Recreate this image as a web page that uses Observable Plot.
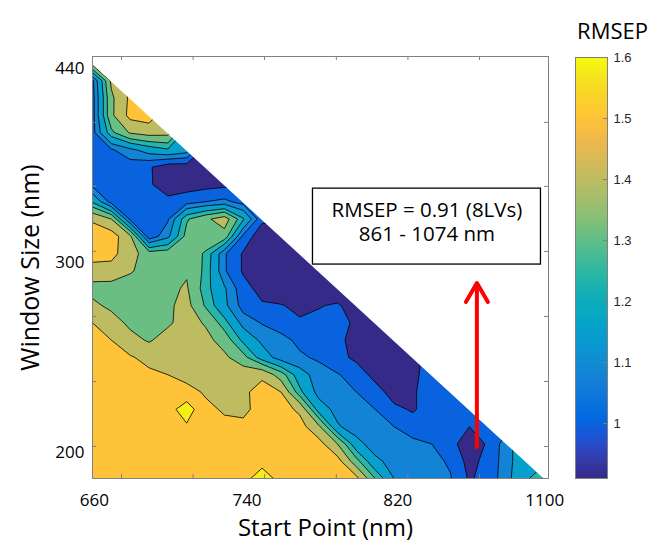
<!DOCTYPE html>
<html><head><meta charset="utf-8">
<script src="https://cdn.jsdelivr.net/npm/d3@7"></script>
<script src="https://cdn.jsdelivr.net/npm/@observablehq/plot@0.6"></script>
<style>
body{margin:0;background:#fff;}
#chart{position:relative;width:651px;height:548px;}
#chart svg{position:absolute;left:0;top:0;}
</style></head><body><div id="chart"></div>
<script>
// ---- data ----
const startPoints = [660,670,680,690,700,710,720,730,740,750,760,770,780,790,800,810,820,830,840,850,860,870,880,890,900];
const windowSizes = [440,430,420,410,400,390,380,370,360,350,340,330,320,310,300,290,280,270,260,250,240,230,220,210,200];
// RMSEP, one row per window size (top = 440 nm), one value per start point (only start + window <= 1100)
const rmsep = [
 [1.44],
 [1.06, 1.42],
 [1.05, 1.38, 1.52],
 [1.05, 1.38, 1.53, 1.55],
 [1.05, 1.29, 1.41, 1.44, 1.43],
 [1.04, 1.07, 1.13, 1.19, 1.23, 1.19],
 [1.04, 1.04, 1.04, 1.01, 0.95, 0.95, 0.96],
 [1.06, 1.04, 1.03, 1.01, 0.96, 0.96, 0.97, 0.98],
 [1.23, 1.05, 1.03, 1.02, 1.02, 1.05, 1.08, 1.10, 1.05],
 [1.49, 1.40, 1.06, 1.03, 1.07, 1.30, 1.38, 1.45, 1.25, 1.02],
 [1.54, 1.55, 1.42, 1.03, 1.13, 1.34, 1.36, 1.36, 1.06, 0.94, 0.95],
 [1.55, 1.53, 1.44, 1.35, 1.36, 1.36, 1.30, 1.09, 0.99, 0.94, 0.93, 0.94],
 [1.45, 1.46, 1.41, 1.36, 1.37, 1.39, 1.29, 1.09, 0.99, 0.95, 0.93, 0.92, 0.93],
 [1.37, 1.36, 1.35, 1.36, 1.38, 1.41, 1.27, 1.16, 1.03, 0.97, 0.94, 0.93, 0.93, 0.94],
 [1.42, 1.38, 1.36, 1.37, 1.385, 1.43, 1.30, 1.17, 1.05, 1.01, 1.005, 0.98, 0.995, 1.01, 0.96],
 [1.50, 1.44, 1.38, 1.37, 1.385, 1.44, 1.39, 1.27, 1.12, 1.075, 1.05, 1.01, 1.02, 1.02, 0.99, 0.95],
 [1.53, 1.50, 1.43, 1.39, 1.44, 1.45, 1.43, 1.36, 1.22, 1.13, 1.10, 1.065, 1.04, 1.02, 0.97, 0.94, 0.95],
 [1.55, 1.53, 1.51, 1.47, 1.46, 1.45, 1.45, 1.42, 1.34, 1.20, 1.11, 1.09, 1.07, 1.03, 0.98, 0.94, 0.94, 0.97],
 [1.55, 1.55, 1.54, 1.52, 1.50, 1.47, 1.46, 1.45, 1.46, 1.48, 1.35, 1.19, 1.11, 1.085, 1.05, 0.97, 0.94, 0.98, 1.04],
 [1.55, 1.55, 1.55, 1.54, 1.53, 1.53, 1.49, 1.46, 1.48, 1.54, 1.50, 1.26, 1.12, 1.11, 1.08, 1.04, 0.96, 0.99, 1.04, 1.05],
 [1.55, 1.55, 1.56, 1.56, 1.55, 1.62, 1.52, 1.49, 1.47, 1.55, 1.54, 1.48, 1.20, 1.12, 1.11, 1.08, 1.02, 0.99, 1.04, 1.05, 1.03],
 [1.55, 1.55, 1.55, 1.55, 1.56, 1.57, 1.55, 1.52, 1.53, 1.55, 1.55, 1.54, 1.42, 1.16, 1.11, 1.10, 1.08, 1.04, 1.04, 1.05, 1.00, 1.06],
 [1.55, 1.55, 1.55, 1.55, 1.55, 1.56, 1.55, 1.55, 1.55, 1.57, 1.55, 1.55, 1.54, 1.40, 1.18, 1.11, 1.11, 1.10, 1.08, 1.05, 0.91, 1.02, 1.12],
 [1.55, 1.55, 1.55, 1.55, 1.55, 1.55, 1.55, 1.55, 1.55, 1.56, 1.55, 1.55, 1.55, 1.54, 1.34, 1.17, 1.12, 1.11, 1.10, 1.07, 0.97, 1.03, 1.12, 1.22],
 [1.55, 1.55, 1.55, 1.55, 1.55, 1.55, 1.55, 1.55, 1.56, 1.61, 1.56, 1.55, 1.55, 1.55, 1.53, 1.31, 1.15, 1.12, 1.10, 1.085, 0.99, 1.03, 1.13, 1.22, 1.33]
];
const levels = [0.91, 1.0, 1.08, 1.15, 1.24, 1.31, 1.4, 1.5, 1.58];
const colorDomain = [0.91, 1.6];
const xDomain = [660, 902];
const yDomain = [200, 444];
const xTickMarks = [675.4, 713.4, 751.3, 789.4, 827.4, 865.4];
const yTickMarks = [218.5, 256.1, 293.7, 331.3, 368.9, 405.9];
const xTickLabels = ["660", "740", "820", "1100"];
const xTickLabelPos = [661, 742, 822, 900];
const yTickLabels = ["200", "300", "440"];
const yTickLabelPos = [215, 325, 437];
const cbTicks = [1, 1.1, 1.2, 1.3, 1.4, 1.5, 1.6];
const best = {rmsep: 0.91, lvs: 8, from: 861, to: 1074};
const note = {x1: 777, x2: 898, y1: 323.7, y2: 367.6, ty1: 354.9, ty2: 341.0};
const arrowSpec = {x: 864, y1: 218, y2: 313};
// parula colormap stops
const parulaStops = ["#352a87","#353dad","#2053d4","#0268e1","#0d75dc","#1481d6","#108ed2","#079ccf","#06a7c6","#0faeb9","#25b5a9","#42bb98","#65be86","#87bf77","#a5be6b","#c0bc60","#d9ba56","#f1b94a","#ffc337","#fad32a","#f5e41d","#f9fb0e"];
const parula = d3.piecewise(d3.interpolateRgb, parulaStops);

// ---- build the dense grid ----
const nx = startPoints.length, ny = windowSizes.length;
const step = startPoints[1] - startPoints[0];
const grid = new Float64Array(nx * ny).fill(NaN);
rmsep.forEach((row, r) => row.forEach((v, c) => { grid[r * nx + c] = v; }));
const maxEnd = startPoints[0] + windowSizes[0];
const gx1 = startPoints[0] - step / 2, gx2 = startPoints[nx - 1] + step / 2;
const gy1 = windowSizes[0] + step / 2, gy2 = windowSizes[ny - 1] - step / 2;
const maskPts = [startPoints[0], gx2].map(x => ({x, y: maxEnd - x}));
const xLab = new Map(xTickLabelPos.map((p, i) => [p, xTickLabels[i]]));
const yLab = new Map(yTickLabelPos.map((p, i) => [p, yTickLabels[i]]));
const W = 651, H = 548;
const frameW = W - 92 - 103, frameH = H - 56 - 70;
const grey = "#808080";

const main = Plot.plot({
  width: W, height: H,
  marginLeft: 92, marginRight: 103, marginTop: 56, marginBottom: 70,
  style: {fontFamily: "'Open Sans', sans-serif", fontSize: "17px", color: "#000", background: "white"},
  x: {domain: xDomain},
  y: {domain: yDomain},
  color: {type: "linear", domain: colorDomain, interpolate: parula},
  marks: [
    Plot.contour(grid, {width: nx, height: ny, x1: gx1, x2: gx2, y1: gy1, y2: gy2,
      fill: Plot.identity, thresholds: levels, stroke: "black", strokeWidth: 0.8, clip: true}),
    Plot.areaY(maskPts, {x: "x", y1: "y", y2: () => gy1, fill: "white", stroke: "white", strokeWidth: 1.6, clip: true}),
    Plot.frame({stroke: grey}),
    Plot.tickX(xTickMarks, {x: d => d, insetBottom: frameH - 4, stroke: grey}),
    Plot.tickX(xTickMarks, {x: d => d, insetTop: frameH - 4, stroke: grey}),
    Plot.tickY(yTickMarks, {y: d => d, insetLeft: frameW - 4, stroke: grey}),
    Plot.tickY(yTickMarks, {y: d => d, insetRight: frameW - 4, stroke: grey}),
    Plot.axisX(xTickLabelPos, {anchor: "bottom", tickSize: 0, tickPadding: 15, tickFormat: d => xLab.get(d), fontSize: 17, label: null}),
    Plot.axisY(yTickLabelPos, {anchor: "left", tickSize: 0, tickPadding: 8, tickFormat: d => yLab.get(d), fontSize: 17, label: null}),
    Plot.text(["Start Point (nm)"], {text: d => d, frameAnchor: "bottom", textAnchor: "middle", dx: 5, dy: 57, fontSize: 24}),
    Plot.text(["Window Size (nm)"], {text: d => d, frameAnchor: "left", textAnchor: "middle", rotate: -90, dx: -62, fontSize: 25}),
    Plot.arrow([arrowSpec], {x1: "x", x2: "x", y1: "y1", y2: "y2", stroke: "#ff0000", strokeWidth: 4, headLength: 8.25, headAngle: 60}),
    Plot.rect([note], {x1: "x1", x2: "x2", y1: "y1", y2: "y2", fill: "white", stroke: "black", strokeWidth: 1.3}),
    Plot.text([note], {x: d => (d.x1 + d.x2) / 2, y: "ty1",
      text: () => `RMSEP = ${best.rmsep} (${best.lvs}LVs)`, fontSize: 20.5}),
    Plot.text([note], {x: d => (d.x1 + d.x2) / 2, y: "ty2",
      text: () => `${best.from} - ${best.to} nm`, fontSize: 20.5})
  ]
});

const cb = Plot.plot({
  width: W, height: H,
  marginLeft: 575, marginRight: 44, marginTop: 57, marginBottom: 70,
  style: {fontFamily: "'Liberation Sans', Arial, sans-serif", fontSize: "13px", color: "#262626", background: "transparent"},
  x: {domain: [0, 1]},
  y: {domain: colorDomain},
  color: {type: "linear", domain: colorDomain, interpolate: parula},
  marks: [
    Plot.raster({x1: 0, x2: 1, y1: colorDomain[0], y2: colorDomain[1], width: 1, height: 300, fill: (x, y) => y, imageRendering: "auto"}),
    Plot.frame({stroke: grey}),
    Plot.tickY(cbTicks, {y: d => d, insetLeft: 28, stroke: grey}),
    Plot.axisY(cbTicks, {anchor: "right", tickSize: 0, tickPadding: 6, tickFormat: d => String(d), label: null}),
    Plot.axisX([], {anchor: "bottom", label: null}),
    Plot.text(["RMSEP"], {text: d => d, frameAnchor: "top", dx: 21, dy: -34, fontSize: 22, fontFamily: "'Open Sans', sans-serif", fill: "black"})
  ]
});

document.getElementById("chart").append(main, cb);
</script></body></html>
